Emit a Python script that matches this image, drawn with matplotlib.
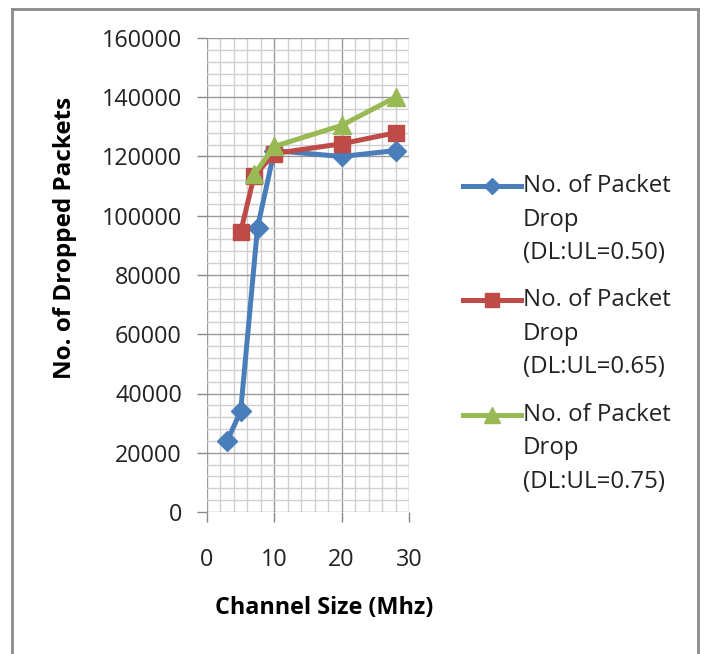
import matplotlib
matplotlib.use("Agg")
import matplotlib.pyplot as plt
from matplotlib.lines import Line2D
from matplotlib.ticker import MultipleLocator

# Channel sizes (MHz) and dropped packet counts for each DL:UL ratio
x_050 = [3, 5, 7.5, 10, 20, 28]
drops_050 = [24000, 34000, 96000, 122000, 120000, 122000]

x_065 = [5, 7, 10, 20, 28]
drops_065 = [94500, 113500, 121000, 124300, 128000]

x_075 = [7, 10, 20, 28]
drops_075 = [114000, 123400, 130500, 140000]

labels = [
    "No. of Packet\nDrop\n(DL:UL=0.50)",
    "No. of Packet\nDrop\n(DL:UL=0.65)",
    "No. of Packet\nDrop\n(DL:UL=0.75)",
]
x_ticks = [0, 10, 20, 30]
y_ticks = list(range(0, 160001, 20000))

plt.rcParams["font.family"] = ["Open Sans", "DejaVu Sans"]

W, H = 704, 654
fig = plt.figure(figsize=(W / 100, H / 100), dpi=100)
ax = fig.add_axes([207 / W, 1 - 512 / H, (409 - 207) / W, (512 - 38) / H])

blue, red, green = "#4a7ebb", "#be4b48", "#98b954"
series = [
    (x_050, drops_050, blue, "D", 10),
    (x_065, drops_065, red, "s", 11.5),
    (x_075, drops_075, green, "^", 13),
]
for z, (xs, ys, c, m, ms) in enumerate(series):
    ax.plot(xs, ys, color=c, lw=3.6, marker=m, ms=ms, zorder=3 + z)

ax.set_xlim(0, 30)
ax.set_ylim(0, 160000)
ax.set_xticks(x_ticks)
ax.set_yticks(y_ticks)
ax.xaxis.set_minor_locator(MultipleLocator(2))
ax.yaxis.set_minor_locator(MultipleLocator(4000))
ax.grid(which="minor", color="#d0d0d0", lw=1.0)
ax.grid(which="major", color="#9a9a9a", lw=1.0)
ax.set_axisbelow(True)
for s in ax.spines.values():
    s.set_visible(False)
ax.tick_params(which="major", length=7, width=1, color="#888888",
               labelsize=16.8, labelcolor="#222222")
ax.tick_params(which="minor", length=0)
ax.tick_params(axis="y", pad=11)
ax.tick_params(axis="x", pad=19)

ax.set_xlabel("Channel Size (Mhz)", fontsize=16.8, fontweight="bold",
              va="center", ha="center")
ax.xaxis.set_label_coords((324 - 207) / 202, (512 - 608) / 474)
ax.set_ylabel("No. of Dropped Packets", fontsize=17.5, fontweight="bold",
              va="center", ha="center")
ax.yaxis.set_label_coords((65 - 207) / 202, (512 - 238) / 474)

# Legend: sample line with marker, then the label lines beside it
first_line_y = [186, 300, 415]
line_gap = 33.5
for (xs, ys, c, m, ms), lab, y0 in zip(series, labels, first_line_y):
    yf = 1 - y0 / H
    fig.add_artist(Line2D([463 / W, 521 / W], [yf, yf], color=c, lw=3.6,
                          transform=fig.transFigure))
    fig.add_artist(Line2D([492 / W], [yf], color=c, marker=m, ms=ms * 0.85,
                          lw=0, transform=fig.transFigure))
    for i, part in enumerate(lab.split("\n")):
        fig.text(523 / W, 1 - (y0 + i * line_gap) / H, part, fontsize=17.3,
                 color="#222222", va="center", ha="left")

# Frame around the chart area
frame_kw = dict(color="#8c8c8c", lw=2.0, transform=fig.transFigure)
fig.add_artist(Line2D([12 / W, 12 / W], [0, 1 - 9 / H], **frame_kw))
fig.add_artist(Line2D([12 / W, 698 / W], [1 - 9 / H, 1 - 9 / H], **frame_kw))
fig.add_artist(Line2D([698 / W, 698 / W], [0, 1 - 9 / H], **frame_kw))

fig.savefig("out.png", dpi=100)
